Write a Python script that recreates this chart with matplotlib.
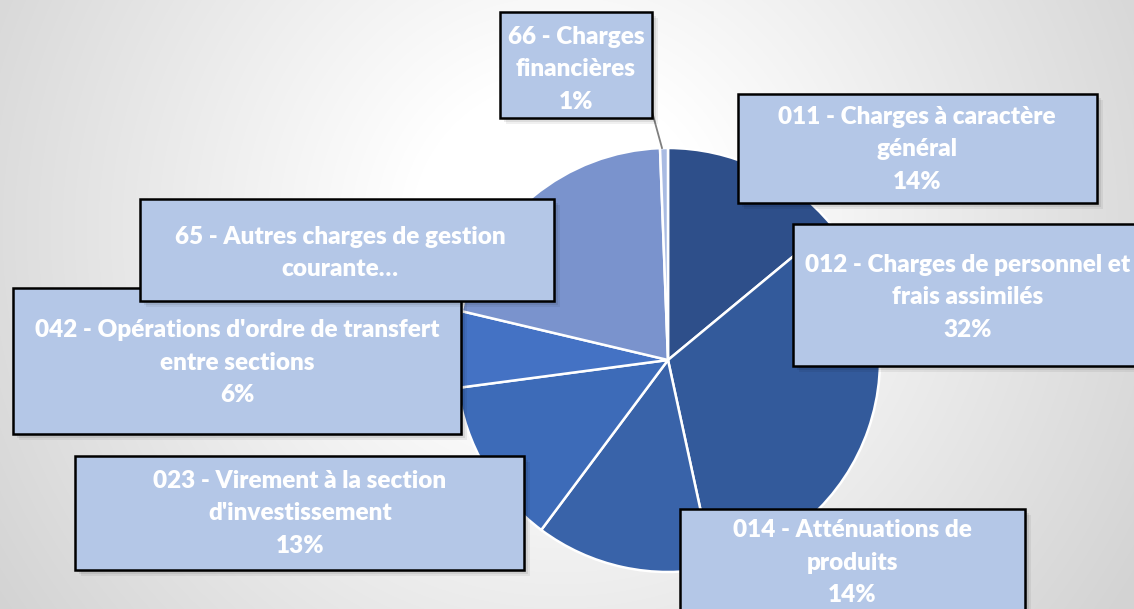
import numpy as np
import matplotlib.pyplot as plt
from matplotlib.patches import Rectangle

# chart data
categories = [
    "011 - Charges à caractère\ngénéral",
    "012 - Charges de personnel et\nfrais assimilés",
    "014 - Atténuations de\nproduits",
    "023 - Virement à la section\nd'investissement",
    "042 - Opérations d'ordre de transfert\nentre sections",
    "65 - Autres charges de gestion\ncourante…",
    "66 - Charges\nfinancières",
]
shares = [14.0, 32.6, 13.6, 12.7, 5.8, 20.7, 0.6]
pct_labels = ["14%", "32%", "14%", "13%", "6%", "", "1%"]
slice_colors = ["#2e4f8a", "#335a9b", "#3963a9", "#3d6bb8", "#4472c4", "#7a93cd", "#a9bbe2"]

W, H = 1134, 609
fig = plt.figure(figsize=(W / 100, H / 100), dpi=100)
ax = fig.add_axes([0, 0, 1, 1])
ax.set_xlim(0, W)
ax.set_ylim(0, H)
ax.axis('off')

# radial grey background
yy, xx = np.mgrid[0:H, 0:W]
r = np.hypot(xx - 560, yy - 230)
g = 1.0 - 0.17 * np.clip((r - 150) / 520, 0, 1)
ax.imshow(np.dstack([g, g, g]), extent=(0, W, 0, H), origin='upper', zorder=0, aspect='auto')

# pie (y is flipped: pixel row 360 -> 609-360)
cx, cy, rad = 668, H - 360, 212
ax.pie(shares, colors=slice_colors, startangle=90, counterclock=False,
       center=(cx, cy), radius=rad, frame=True,
       wedgeprops=dict(edgecolor='white', linewidth=1.8, zorder=2))
ax.set_xlim(0, W)
ax.set_ylim(0, H)
ax.set_aspect('equal')
ax.axis('off')

# label boxes in pixel coords: x0, y0 (top), x1, y1 (bottom), text centre x, first line y
boxes = [
    (738, 94, 1097, 203, 917, 117),
    (793, 224, 1145, 366, 968, 265),
    (680, 509, 1025, 620, 852, 530),
    (75, 456, 524, 570, 300, 481),
    (13, 288, 461, 434, 237, 330),
    (140, 199, 554, 301, 340, 237),
    (500, 12, 652, 118, 576, 37),
]

# leader for the small slice
ax.plot([651, 662], [H - 108, H - 148], color='#7f7f7f', lw=1.3, zorder=3)

fam = ['Lato', 'DejaVu Sans']
line_h = 32.5
for i, (x0, y0, x1, y1, tx, ty) in enumerate(boxes):
    z = 4 + i * 0.1
    for k, a in enumerate([0.10, 0.08, 0.06]):
        d = 2 + k * 2
        ax.add_patch(Rectangle((x0 + d, H - y1 - d), x1 - x0, y1 - y0,
                               facecolor='black', alpha=a, lw=0, zorder=z))
    ax.add_patch(Rectangle((x0, H - y1), x1 - x0, y1 - y0, facecolor='#b4c7e7',
                           edgecolor='black', lw=1.8, zorder=z + 0.01))
    lines = categories[i].split("\n")
    if pct_labels[i]:
        lines.append(pct_labels[i])
    for j, ln in enumerate(lines):
        ax.text(tx, H - (ty + j * line_h), ln, ha='center', va='center', color='white',
                fontsize=17.5, fontweight='heavy', family=fam, zorder=z + 0.02)

fig.savefig('out.png', dpi=100)
